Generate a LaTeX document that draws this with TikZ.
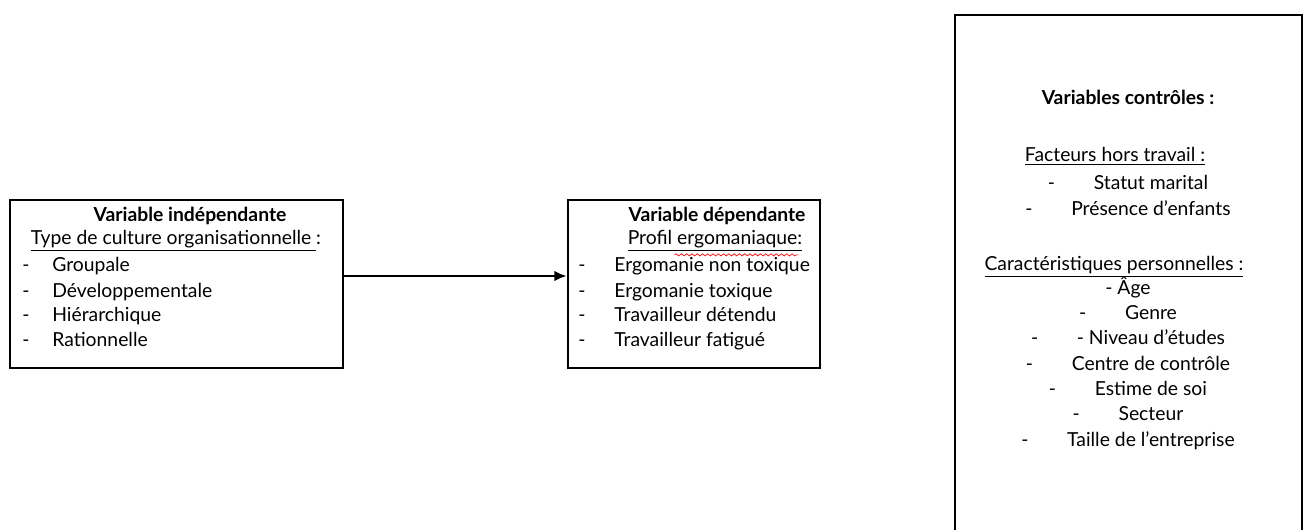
\documentclass[tikz,border=0pt]{standalone}
\usepackage{fontspec}
\setmainfont{Lato}
\usepackage{tikz}
\usetikzlibrary{arrows.meta,calc,decorations.pathmorphing}

\tikzset{
	boite/.style={draw, line width=1.6pt, inner sep=0pt},
	texte/.style={inner sep=0pt, anchor=mid, font=\fontsize{11}{13}\selectfont},
	gras/.style={texte, font=\fontsize{11}{13}\selectfont\bfseries},
	puce/.style={texte, anchor=mid west},
}

\begin{document}
\begin{tikzpicture}[x=0.02cm,y=-0.02cm]
	
	\useasboundingbox (0,0) rectangle (1306,529);
	
	% les trois cadres
	\node[boite, minimum width=6.66cm, minimum height=3.36cm] (indep) at (176.5,284) {};
	\node[boite, minimum width=5.04cm, minimum height=3.36cm] (dep) at (694,284) {};
	\node[boite, minimum width=6.94cm, minimum height=10.6cm] (ctrl) at (1128.5,280) {};
	
	\draw[line width=1.1pt, -{Latex[length=7pt,width=6pt]}] (indep.east |- 0,276) -- (dep.west |- 0,276);
	
	% variable independante
	\node[gras] (vi) at (190,217) {Variable indépendante};
	\node[texte] (vitype) at (176,240) {\underline{Type de culture organisationnelle }:};
	\foreach \y/\t [count=\i] in {267/Groupale, 293/Développementale, 317/Hiérarchique, 342/Rationnelle} {
		\node[puce] (vitiret\i) at (22,\y) {-};
		\node[puce] (vi\i) at (52,\y) {\t};
	}
	
	% variable dependante
	\node[gras] (vd) at (717,217) {Variable dépendante};
	\node[texte] (vdprofil) at (715,240) {\underline{Profil ergomaniaque:}};
	\draw[red, line width=0.4pt, decorate, decoration={snake, amplitude=0.6pt, segment length=3pt}]
		($(vdprofil.south west)+(47,3)$) -- ($(vdprofil.south east)+(-4,3)$);
	\foreach \y/\t [count=\i] in {267/Ergomanie non toxique, 293/Ergomanie toxique, 317/Travailleur détendu, 342/Travailleur fatigué} {
		\node[puce] (vdtiret\i) at (578,\y) {-};
		\node[puce] (vd\i) at (614,\y) {\t};
	}
	
	% variables controles
	\node[gras] (vc) at (1128,100) {Variables contrôles :};
	\node[texte] (vcfact) at (1115,157) {\underline{Facteurs hors travail :}};
	\node[texte] (vc1) at (1128,185) {-\hspace{22pt}Statut marital};
	\node[texte] (vc2) at (1128,211) {-\hspace{22pt}Présence d’enfants};
	\node[texte] (vccar) at (1114,266) {\underline{Caractéristiques personnelles :}};
	\node[texte] (vc3) at (1128,290) {- Âge};
	\node[texte] (vc4) at (1128,315) {-\hspace{22pt}Genre};
	\node[texte] (vc5) at (1128,340) {-\hspace{22pt}- Niveau d’études};
	\node[texte] (vc6) at (1128,366) {-\hspace{22pt}Centre de contrôle};
	\node[texte] (vc7) at (1128,391) {-\hspace{22pt}Estime de soi};
	\node[texte] (vc8) at (1128,416) {-\hspace{22pt}Secteur};
	\node[texte] (vc9) at (1128,442) {-\hspace{22pt}Taille de l’entreprise};
	
\end{tikzpicture}
\end{document}
